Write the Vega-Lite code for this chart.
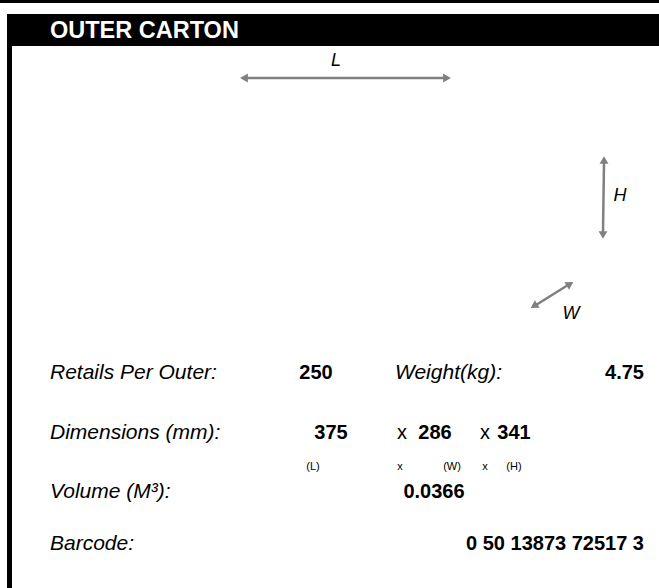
{
  "$schema": "https://vega.github.io/schema/vega-lite/v6.json",
  "width": 659,
  "height": 588,
  "padding": 0,
  "autosize": {"type": "fit", "contains": "padding"},
  "config": {"view": {"stroke": null}, "font": "Liberation Sans"},
  "datasets": {
    "blocks": [
      {"x1": 0, "x2": 659, "y1": 0, "y2": 3},
      {"x1": 7, "x2": 659, "y1": 14, "y2": 46},
      {"x1": 7, "x2": 12, "y1": 46, "y2": 588}
    ],
    "arrows": [
      {"x1": 247, "y1": 78, "x2": 444, "y2": 78},
      {"x1": 604, "y1": 163, "x2": 603, "y2": 232},
      {"x1": 536, "y1": 305, "x2": 568, "y2": 285}
    ],
    "heads": [
      {"x": 244, "y": 78, "dir": 270},
      {"x": 447, "y": 78, "dir": 90},
      {"x": 604, "y": 160, "dir": 0},
      {"x": 603, "y": 235, "dir": 180},
      {"x": 570, "y": 284, "dir": 58},
      {"x": 534, "y": 306, "dir": 238}
    ],
    "texts": [
      {"x": 50, "y": 31, "t": "OUTER CARTON", "k": "title"},
      {"x": 336, "y": 61, "t": "L", "k": "axis"},
      {"x": 620, "y": 196, "t": "H", "k": "axis"},
      {"x": 571, "y": 314, "t": "W", "k": "axis"},
      {"x": 50, "y": 373, "t": "Retails Per Outer:", "k": "label"},
      {"x": 395, "y": 373, "t": "Weight(kg):", "k": "label"},
      {"x": 50, "y": 433, "t": "Dimensions (mm):", "k": "label"},
      {"x": 50, "y": 492, "t": "Volume (M³):", "k": "label"},
      {"x": 50, "y": 544, "t": "Barcode:", "k": "label"},
      {"x": 316, "y": 373, "t": "250", "k": "vc"},
      {"x": 644, "y": 373, "t": "4.75", "k": "vr"},
      {"x": 331, "y": 433, "t": "375", "k": "vc"},
      {"x": 435, "y": 433, "t": "286", "k": "vc"},
      {"x": 514, "y": 433, "t": "341", "k": "vc"},
      {"x": 402, "y": 433, "t": "x", "k": "op"},
      {"x": 485, "y": 433, "t": "x", "k": "op"},
      {"x": 434, "y": 492, "t": "0.0366", "k": "vc"},
      {"x": 644, "y": 544, "t": "0 50 13873 72517 3", "k": "vr"},
      {"x": 313, "y": 467, "t": "(L)", "k": "sub"},
      {"x": 400, "y": 467, "t": "x", "k": "sub"},
      {"x": 452, "y": 467, "t": "(W)", "k": "sub"},
      {"x": 485, "y": 467, "t": "x", "k": "sub"},
      {"x": 514, "y": 467, "t": "(H)", "k": "sub"}
    ]
  },
  "layer": [
    {
      "data": {"name": "blocks"},
      "mark": {"type": "rect", "color": "#000000"},
      "encoding": {
        "x": {"field": "x1", "type": "quantitative", "scale": {"domain": [0, 659], "nice": false, "zero": false}, "axis": null},
        "x2": {"field": "x2"},
        "y": {"field": "y1", "type": "quantitative", "scale": {"domain": [0, 588], "nice": false, "zero": false, "reverse": true}, "axis": null},
        "y2": {"field": "y2"}
      }
    },
    {
      "data": {"name": "arrows"},
      "mark": {"type": "rule", "color": "#808080", "strokeWidth": 2.5},
      "encoding": {
        "x": {"field": "x1", "type": "quantitative", "axis": null},
        "x2": {"field": "x2"},
        "y": {"field": "y1", "type": "quantitative", "axis": null},
        "y2": {"field": "y2"}
      }
    },
    {
      "data": {"name": "heads"},
      "mark": {"type": "point", "shape": "triangle-up", "filled": true, "color": "#808080", "size": 80, "opacity": 1},
      "encoding": {
        "x": {"field": "x", "type": "quantitative", "axis": null},
        "y": {"field": "y", "type": "quantitative", "axis": null},
        "angle": {"field": "dir", "type": "quantitative", "scale": null}
      }
    },
    {
      "data": {"name": "texts"},
      "transform": [{"filter": "datum.k == 'title'"}],
      "mark": {"type": "text", "align": "left", "baseline": "middle", "fontSize": 23.5, "fontWeight": "bold", "color": "#ffffff"},
      "encoding": {
        "x": {"field": "x", "type": "quantitative", "axis": null},
        "y": {"field": "y", "type": "quantitative", "axis": null},
        "text": {"field": "t"}
      }
    },
    {
      "data": {"name": "texts"},
      "transform": [{"filter": "datum.k == 'axis'"}],
      "mark": {"type": "text", "align": "center", "baseline": "middle", "fontSize": 18, "fontStyle": "italic", "color": "#000000"},
      "encoding": {
        "x": {"field": "x", "type": "quantitative", "axis": null},
        "y": {"field": "y", "type": "quantitative", "axis": null},
        "text": {"field": "t"}
      }
    },
    {
      "data": {"name": "texts"},
      "transform": [{"filter": "datum.k == 'label'"}],
      "mark": {"type": "text", "align": "left", "baseline": "middle", "fontSize": 21, "fontStyle": "italic", "color": "#000000"},
      "encoding": {
        "x": {"field": "x", "type": "quantitative", "axis": null},
        "y": {"field": "y", "type": "quantitative", "axis": null},
        "text": {"field": "t"}
      }
    },
    {
      "data": {"name": "texts"},
      "transform": [{"filter": "datum.k == 'vc'"}],
      "mark": {"type": "text", "align": "center", "baseline": "middle", "fontSize": 20, "fontWeight": "bold", "color": "#000000"},
      "encoding": {
        "x": {"field": "x", "type": "quantitative", "axis": null},
        "y": {"field": "y", "type": "quantitative", "axis": null},
        "text": {"field": "t"}
      }
    },
    {
      "data": {"name": "texts"},
      "transform": [{"filter": "datum.k == 'vr'"}],
      "mark": {"type": "text", "align": "right", "baseline": "middle", "fontSize": 20, "fontWeight": "bold", "color": "#000000"},
      "encoding": {
        "x": {"field": "x", "type": "quantitative", "axis": null},
        "y": {"field": "y", "type": "quantitative", "axis": null},
        "text": {"field": "t"}
      }
    },
    {
      "data": {"name": "texts"},
      "transform": [{"filter": "datum.k == 'op'"}],
      "mark": {"type": "text", "align": "center", "baseline": "middle", "fontSize": 20, "color": "#000000"},
      "encoding": {
        "x": {"field": "x", "type": "quantitative", "axis": null},
        "y": {"field": "y", "type": "quantitative", "axis": null},
        "text": {"field": "t"}
      }
    },
    {
      "data": {"name": "texts"},
      "transform": [{"filter": "datum.k == 'sub'"}],
      "mark": {"type": "text", "align": "center", "baseline": "middle", "fontSize": 11, "color": "#000000"},
      "encoding": {
        "x": {"field": "x", "type": "quantitative", "axis": null},
        "y": {"field": "y", "type": "quantitative", "axis": null},
        "text": {"field": "t"}
      }
    }
  ]
}
